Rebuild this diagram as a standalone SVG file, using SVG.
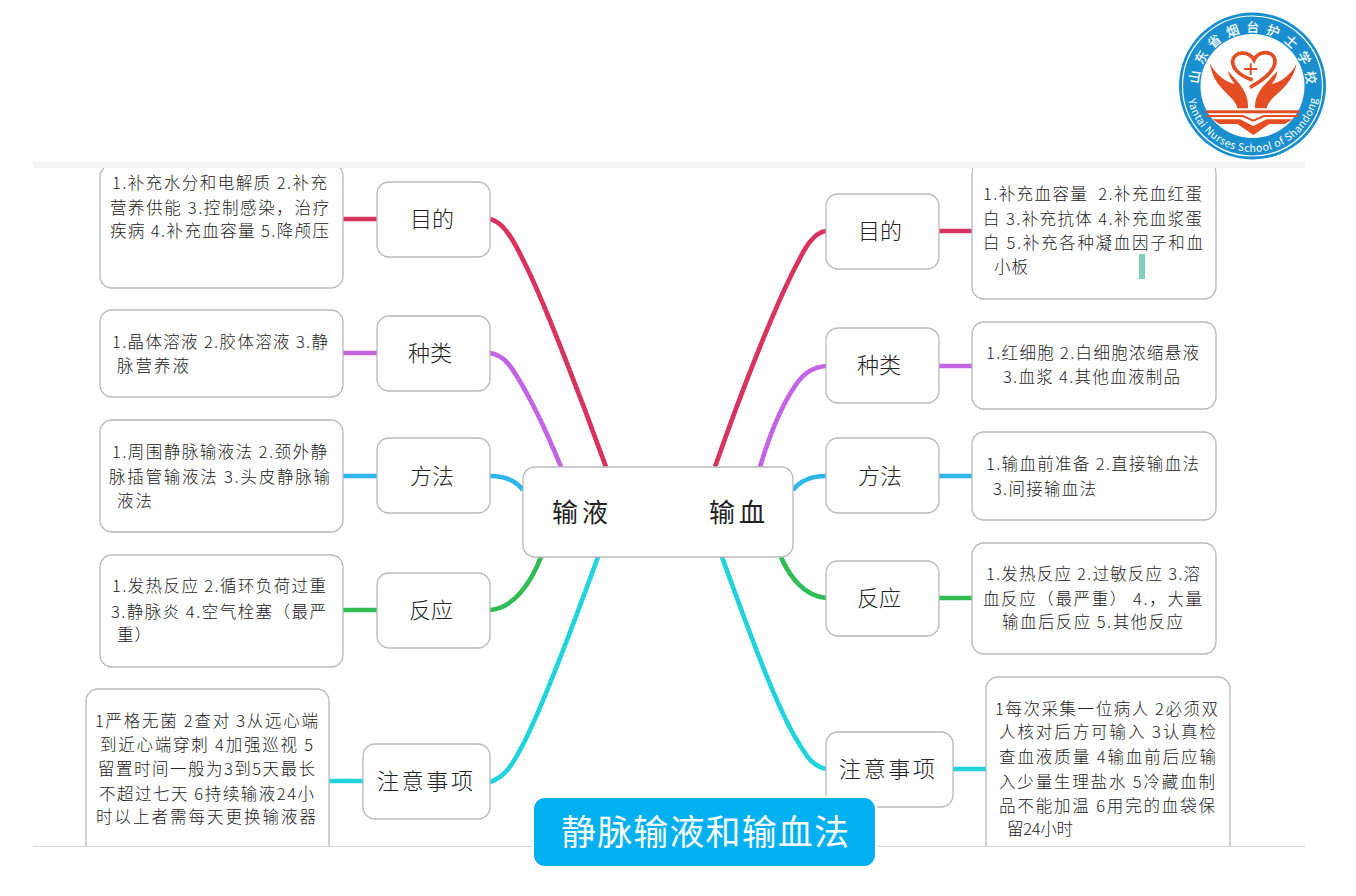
<svg xmlns="http://www.w3.org/2000/svg" width="1356" height="896" viewBox="0 0 1356 896">
<style>
text{font-family:"Noto Sans CJK SC","Noto Sans",sans-serif;fill:#222;dominant-baseline:central;white-space:pre}
.t{font-size:16.5px;font-weight:300;transform:translateY(-1px)}
.n{font-size:22px;font-weight:300;transform:translateY(-2px)}
.c{font-size:26px;font-weight:400;transform:translateY(-2px)}
.b{fill:#fff;stroke:#b9b9b9;stroke-width:1.3}
.l{fill:none;stroke-width:4.7;stroke-linecap:butt}
.r{stroke:#d8335f}.p{stroke:#c264e4}.s{stroke:#2eb6ea}.g{stroke:#30bd55}.q{stroke:#22d3dc}
.or{fill:#e34e24}
.lt{fill:#fff;font-family:"Noto Sans CJK SC",sans-serif;font-weight:500}
</style>
<rect width="1356" height="896" fill="#fff"/>
<g id="connectors">
<path class="l r" d="M490,219 C505,222 516,245 528,270 C545,305 580,395 606,467"/>
<path class="l p" d="M490,353 C503,355 510,365 516,375 C535,405 550,440 561,467"/>
<path class="l s" d="M490,476 C505,476 516,481 523,490"/>
<path class="l g" d="M490,610 C513,608 530,585 541,557"/>
<path class="l q" d="M490,782 C505,777 512,765 520,750 C540,715 575,620 598,557"/>
<path class="l r" d="M826,231 C812,233 803,252 798,262 C775,305 740,395 715,467"/>
<path class="l p" d="M826,366 C812,367 802,375 795,386 C780,408 768,440 760,467"/>
<path class="l s" d="M826,476 C811,476 800,481 793,490"/>
<path class="l g" d="M826,598 C805,596 790,578 781,557"/>
<path class="l q" d="M826,769 C812,766 806,755 798,742 C775,705 745,620 722,557"/>
<path class="l r" d="M343,219H377M939,231H972"/>
<path class="l p" d="M343,353H377M939,366H972"/>
<path class="l s" d="M343,476H377M939,476H972"/>
<path class="l g" d="M343,610H377M939,598H972"/>
<path class="l q" d="M329,781H363M953,769H986"/>
</g>
<g id="center">
<rect class="b" x="523" y="467" width="270" height="90" rx="12"/>
<text class="c" x="552" y="512" textLength="56">输液</text>
<text class="c" x="709" y="512" textLength="56">输血</text>
</g>
<g id="left-purpose">
<rect class="b" x="377" y="182" width="113" height="75" rx="12"/>
<text class="n" x="410" y="219" textLength="44">目的</text>
</g>
<g id="left-purpose-detail">
<path class="b" d="M104,168 C102,170 100,172 100,176 V276 A12,12 0 0 0 112,288 H331 A12,12 0 0 0 343,276 V176 C343,172 342,170 340,168"/>
<text class="t" x="112" y="183" textLength="215">1.补充水分和电解质 2.补充</text>
<text class="t" x="110" y="208" textLength="219">营养供能 3.控制感染，治疗</text>
<text class="t" x="110" y="231" textLength="219">疾病 4.补充血容量 5.降颅压</text>
</g>
<g id="left-types">
<rect class="b" x="377" y="316" width="113" height="75" rx="12"/>
<text class="n" x="408" y="353" textLength="44">种类</text>
</g>
<g id="left-types-detail">
<rect class="b" x="100" y="310" width="243" height="87" rx="12"/>
<text class="t" x="112" y="342" textLength="216">1.晶体溶液 2.胶体溶液 3.静</text>
<text class="t" x="117" y="366" textLength="72">脉营养液</text>
</g>
<g id="left-method">
<rect class="b" x="377" y="438" width="113" height="75" rx="12"/>
<text class="n" x="410" y="476" textLength="44">方法</text>
</g>
<g id="left-method-detail">
<rect class="b" x="100" y="420" width="243" height="112" rx="12"/>
<text class="t" x="112" y="452" textLength="215">1.周围静脉输液法 2.颈外静</text>
<text class="t" x="109" y="477" textLength="221">脉插管输液法 3.头皮静脉输</text>
<text class="t" x="117" y="501" textLength="35">液法</text>
</g>
<g id="left-reaction">
<rect class="b" x="377" y="573" width="113" height="75" rx="12"/>
<text class="n" x="409" y="610" textLength="44">反应</text>
</g>
<g id="left-reaction-detail">
<rect class="b" x="100" y="555" width="243" height="112" rx="12"/>
<text class="t" x="112" y="586" textLength="214">1.发热反应 2.循环负荷过重</text>
<text class="t" x="111" y="612" textLength="215">3.静脉炎 4.空气栓塞（最严</text>
<text class="t" x="117" y="635" textLength="34">重）</text>
</g>
<g id="left-notes">
<rect class="b" x="363" y="744" width="127" height="75" rx="12"/>
<text class="n" x="377" y="781" textLength="96">注意事项</text>
</g>
<g id="left-notes-detail">
<path class="b" d="M86,846 V701 A12,12 0 0 1 98,689 H317 A12,12 0 0 1 329,701 V846"/>
<text class="t" x="95" y="721" textLength="223">1严格无菌 2查对 3从远心端</text>
<text class="t" x="100" y="745" textLength="213">到近心端穿刺 4加强巡视 5</text>
<text class="t" x="98" y="769" textLength="217">留置时间一般为3到5天最长</text>
<text class="t" x="99" y="794" textLength="215">不超过七天 6持续输液24小</text>
<text class="t" x="96" y="817" textLength="220">时以上者需每天更换输液器</text>
</g>
<g id="right-purpose">
<rect class="b" x="826" y="194" width="113" height="75" rx="12"/>
<text class="n" x="858" y="231" textLength="44">目的</text>
</g>
<g id="right-purpose-detail">
<path class="b" d="M973,168 C972,170 972,172 972,176 V287 A12,12 0 0 0 984,299 H1204 A12,12 0 0 0 1216,287 V176 C1216,172 1216,170 1215,168"/>
<text class="t" x="983" y="194" textLength="219">1.补充血容量  2.补充血红蛋</text>
<text class="t" x="983" y="219" textLength="219">白 3.补充抗体 4.补充血浆蛋</text>
<text class="t" x="983" y="243" textLength="220">白 5.补充各种凝血因子和血</text>
<text class="t" x="994" y="267" textLength="34">小板</text>
<rect x="1139" y="254" width="6" height="25" fill="#80cbb9"/>
</g>
<g id="right-types">
<rect class="b" x="826" y="328" width="113" height="75" rx="12"/>
<text class="n" x="857" y="365" textLength="44">种类</text>
</g>
<g id="right-types-detail">
<rect class="b" x="972" y="322" width="244" height="87" rx="12"/>
<text class="t" x="986" y="353" textLength="213">1.红细胞 2.白细胞浓缩悬液</text>
<text class="t" x="1003" y="377" textLength="177">3.血浆 4.其他血液制品</text>
</g>
<g id="right-method">
<rect class="b" x="826" y="438" width="113" height="75" rx="12"/>
<text class="n" x="858" y="476" textLength="44">方法</text>
</g>
<g id="right-method-detail">
<rect class="b" x="972" y="432" width="244" height="88" rx="12"/>
<text class="t" x="986" y="464" textLength="213">1.输血前准备 2.直接输血法</text>
<text class="t" x="993" y="489" textLength="103">3.间接输血法</text>
</g>
<g id="right-reaction">
<rect class="b" x="826" y="561" width="113" height="75" rx="12"/>
<text class="n" x="857" y="598" textLength="44">反应</text>
</g>
<g id="right-reaction-detail">
<rect class="b" x="972" y="543" width="244" height="111" rx="12"/>
<text class="t" x="986" y="574" textLength="214">1.发热反应 2.过敏反应 3.溶</text>
<text class="t" x="983" y="599" textLength="219">血反应（最严重） 4.，大量</text>
<text class="t" x="1002" y="622" textLength="181">输血后反应 5.其他反应</text>
</g>
<g id="right-notes">
<rect class="b" x="826" y="732" width="127" height="75" rx="12"/>
<text class="n" x="839" y="769" textLength="96">注意事项</text>
</g>
<g id="right-notes-detail">
<path class="b" d="M986,846 V689 A12,12 0 0 1 998,677 H1218 A12,12 0 0 1 1230,689 V846"/>
<text class="t" x="995" y="709" textLength="223">1每次采集一位病人 2必须双</text>
<text class="t" x="999" y="732" textLength="217">人核对后方可输入 3认真检</text>
<text class="t" x="999" y="757" textLength="217">查血液质量 4输血前后应输</text>
<text class="t" x="999" y="782" textLength="216">入少量生理盐水 5冷藏血制</text>
<text class="t" x="999" y="806" textLength="216">品不能加温 6用完的血袋保</text>
<text class="t" x="1007" y="829" textLength="66">留24小时</text>
</g>
<g id="frame">
<rect x="33" y="162" width="1272" height="6" fill="#f4f4f4"/>
<rect x="33" y="846" width="1272" height="1" fill="#d8d8d8"/>
</g>
<g id="title">
<rect x="534" y="798" width="341" height="68" rx="11" fill="#00b0f0" stroke="#fff" stroke-width="4" paint-order="stroke"/>
<text x="561" y="829" textLength="288" style="fill:#fff;font-size:35px;font-weight:400">静脉输液和输血法</text>
</g>
<g id="logo">
<defs>
<path id="arcTop" d="M1198.5,86 A54,54 0 0 1 1306.5,86"/>
<path id="arcBot" d="M1186.5,86 A66,66 0 0 0 1318.5,86"/>
</defs>
<circle cx="1252.5" cy="86" r="73.5" fill="#1a8fd0"/>
<circle cx="1252.5" cy="86" r="70" fill="none" stroke="#fff" stroke-width="1.2"/>
<circle cx="1252.5" cy="86" r="52" fill="#fff"/>
<text class="lt" style="font-size:13px;fill:#fff;dominant-baseline:auto"><textPath href="#arcTop" startOffset="2" textLength="166">山东省烟台护士学校</textPath></text>
<text class="lt" style="font-size:10.5px;fill:#fff;font-weight:400;dominant-baseline:auto"><textPath href="#arcBot" startOffset="14" textLength="180">Yantai Nurses School of Shandong</textPath></text>
<g transform="translate(1160,0) scale(.3333)">
<path d="M278,240 C240,228 216,205 218,182 C222,155 265,150 282,180 C295,150 345,150 345,185 C345,215 300,245 270,262" fill="none" stroke="#e34e24" stroke-width="11"/>
<path d="M252,207H292M272,190V225" fill="none" stroke="#e34e24" stroke-width="6"/>
<path class="or" d="M264,325 L232,325 C225,285 160,270 150,190 C165,225 205,250 224,252 C215,238 205,228 205,213 C225,240 268,270 264,325Z"/>
<path class="or" d="M285,325 L320,325 C327,285 395,270 410,190 C395,225 355,250 336,252 C345,238 352,228 352,213 C332,240 282,270 285,325Z"/>
<path class="or" d="M138,331 H418 V340 H138Z"/>
<path d="M140,348 H248 L280,362 L312,348 H415" fill="none" stroke="#e34e24" stroke-width="6"/>
<path class="or" d="M158,358 H240 L280,378 L320,358 H398 L375,372 H328 L280,405 L232,372 H178Z"/>
</g>
</g>
</svg>
